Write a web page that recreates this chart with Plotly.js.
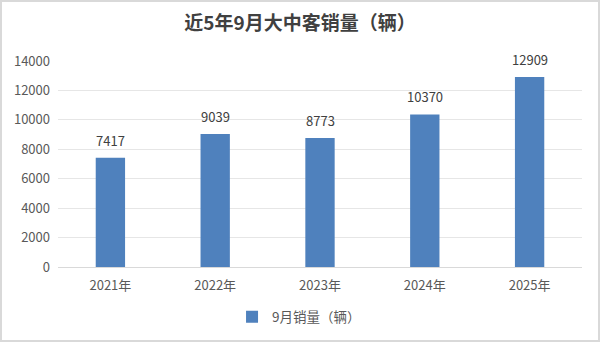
<!DOCTYPE html>
<html><head><meta charset="utf-8">
<script src="https://cdn.plot.ly/plotly-3.0.1.min.js"></script>
<style>
body{margin:0;padding:0;background:#fff;}
#wrap{position:relative;width:600px;height:342px;}
#chart{width:600px;height:342px;}
#frame{position:absolute;left:0;top:0;width:600px;height:342px;box-sizing:border-box;border:2px solid #d9d9d9;pointer-events:none;}
</style>
</head><body>
<div id="wrap"><div id="chart"></div><div id="frame"></div></div>
<script>
const categories = ['2021年','2022年','2023年','2024年','2025年'];
const sales = [7417, 9039, 8773, 10370, 12909];
const seriesName = '9月销量（辆）';
const yTicks = [0,2000,4000,6000,8000,10000,12000,14000];

const FONT = '"Noto Sans CJK SC", "Noto Sans", sans-serif';
const trace = {
  type:'bar', x:categories, y:sales, name:seriesName,
  marker:{color:'#4f81bd'}, width:0.28, hoverinfo:'none'
};
const annotations = categories.map((c,i)=>({
  x:c, y:sales[i], text:String(sales[i]), showarrow:false,
  yanchor:'bottom', yshift:6, font:{family:FONT, size:13, color:'#404040'}
}));
const layout = {
  width:600, height:342,
  margin:{l:58, r:18, t:61, b:75, autoexpand:false},
  paper_bgcolor:'#fff', plot_bgcolor:'#fff',
  title:{text:'<b>近5年9月大中客销量（辆）</b>', x:0.5, xanchor:'center', y:0.932, yanchor:'middle',
         font:{family:FONT, size:19, color:'#404040'}},
  xaxis:{type:'category', showgrid:false, showline:true, linecolor:'#d9d9d9', linewidth:1,
         ticks:'', ticklabelstandoff:6, tickfont:{family:FONT, size:13, color:'#595959'}, fixedrange:true},
  yaxis:{range:[0,14000], tickvals:yTicks, ticktext:yTicks.map(String), showgrid:true, gridcolor:'#e6e6e6',
         zeroline:false, showline:false, ticks:'', ticklen:0, ticklabelstandoff:7,
         tickfont:{family:FONT, size:13, color:'#595959'}, fixedrange:true},
  showlegend:true,
  legend:{orientation:'h', x:0.46, xanchor:'center', y:-0.243, yanchor:'middle',
          font:{family:FONT, size:13.5, color:'#595959'}, itemwidth:30},
  annotations:annotations,
  bargap:0.72
};
Plotly.newPlot('chart',[trace],layout,{displayModeBar:false, staticPlot:true});
</script>
</body></html>
